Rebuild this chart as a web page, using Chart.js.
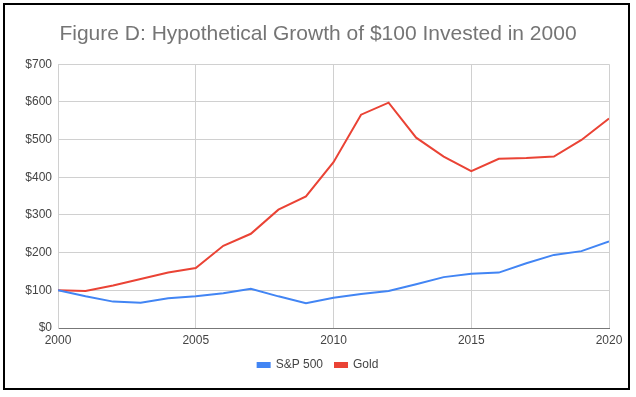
<!DOCTYPE html>
<html>
<head>
<meta charset="utf-8">
<script src="https://cdn.jsdelivr.net/npm/chart.js@4.4.1/dist/chart.umd.min.js"></script>
<style>
  body { margin: 0; background: #fff; }
  #wrap { position: relative; width: 636px; height: 397px; }
  #frame {
    position: absolute; left: 3px; top: 3px; width: 623px; height: 383px;
    border: 2px solid #000; pointer-events: none;
  }
</style>
</head>
<body>
<div id="wrap">
  <canvas id="growthChart" width="636" height="397"></canvas>
  <div id="frame"></div>
</div>
<script>
// Data
const years = [2000, 2001, 2002, 2003, 2004, 2005, 2006, 2007, 2008, 2009, 2010,
               2011, 2012, 2013, 2014, 2015, 2016, 2017, 2018, 2019, 2020];
const sp500 = [100, 84, 70, 67, 79, 84, 92, 104, 84, 66, 80,
               90, 98, 116, 135, 144, 147, 172, 194, 204, 230];
const gold = [100, 98, 113, 130, 147, 159, 218, 250, 314, 349, 440,
              566, 598, 505, 455, 416, 449, 451, 455, 499, 556];
const yTicks = [0, 100, 200, 300, 400, 500, 600, 700];
const xTicks = [2000, 2005, 2010, 2015, 2020];

const toPoints = (vals) => vals.map((v, i) => ({ x: years[i], y: v }));

const fontFamily = "'Liberation Sans', Arial, sans-serif";

const ctx = document.getElementById('growthChart').getContext('2d');
new Chart(ctx, {
  type: 'line',
  data: {
    datasets: [
      {
        label: 'S&P 500',
        data: toPoints(sp500),
        borderColor: '#4285f4',
        backgroundColor: '#4285f4',
        borderWidth: 2,
        pointRadius: 0,
        tension: 0
      },
      {
        label: 'Gold',
        data: toPoints(gold),
        borderColor: '#ea4335',
        backgroundColor: '#ea4335',
        borderWidth: 2,
        pointRadius: 0,
        tension: 0
      }
    ]
  },
  options: {
    responsive: false,
    animation: false,
    layout: { padding: { left: 0, right: 0, top: 0, bottom: 16 } },
    plugins: {
      title: {
        display: true,
        text: 'Figure D: Hypothetical Growth of $100 Invested in 2000',
        color: '#757575',
        font: { family: fontFamily, size: 21, weight: 'normal' },
        padding: { top: 22, bottom: 17 }
      },
      legend: {
        position: 'bottom',
        labels: {
          color: '#444',
          font: { family: fontFamily, size: 12 },
          boxWidth: 12,
          boxHeight: 4,
          padding: 12
        }
      },
      tooltip: { enabled: false }
    },
    scales: {
      x: {
        type: 'linear',
        min: years[0],
        max: years[years.length - 1],
        afterBuildTicks: (scale) => { scale.ticks = xTicks.map(v => ({ value: v })); },
        afterFit: (scale) => { scale.paddingRight = 27; scale.height = 19; },
        ticks: {
          color: '#444',
          font: { family: fontFamily, size: 12 },
          padding: 5,
          maxRotation: 0,
          callback: (v) => String(v)
        },
        grid: { color: '#d0d0d0', drawTicks: false },
        border: { color: '#777', width: 1 }
      },
      y: {
        min: 0,
        max: 700,
        afterBuildTicks: (scale) => { scale.ticks = yTicks.map(v => ({ value: v })); },
        afterFit: (scale) => { scale.width = 58; },
        ticks: {
          color: '#444',
          font: { family: fontFamily, size: 12 },
          padding: 6,
          callback: (v) => '$' + v
        },
        grid: { color: '#d0d0d0', drawTicks: false },
        border: { color: '#d0d0d0', width: 1 }
      }
    }
  }
});
</script>
</body>
</html>
